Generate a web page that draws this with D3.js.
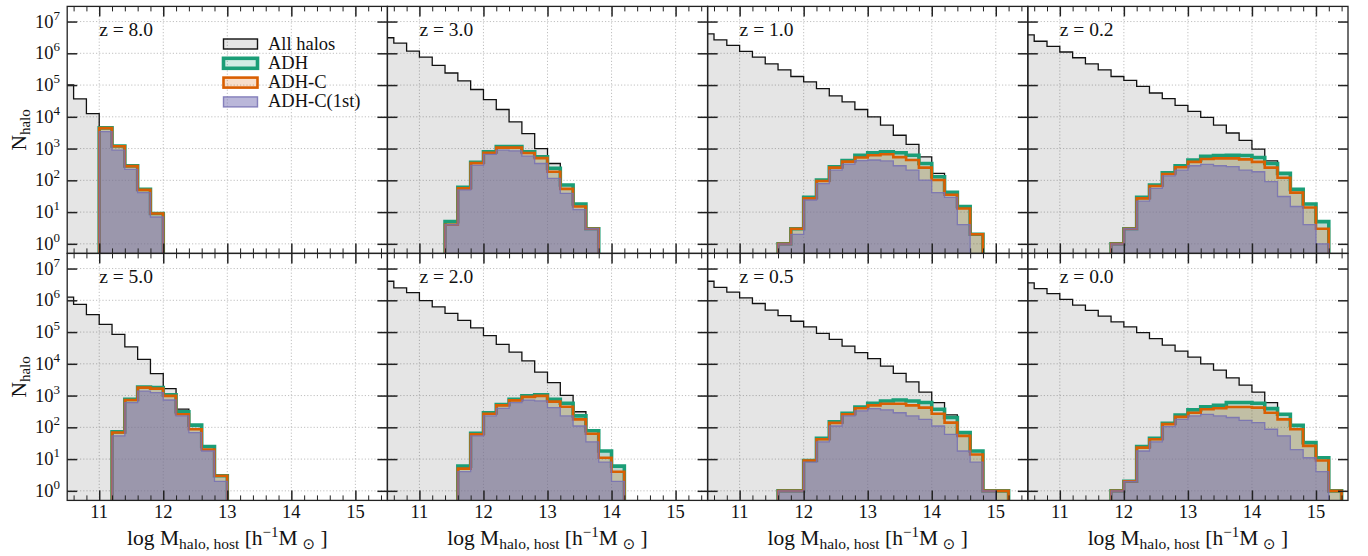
<!DOCTYPE html>
<html>
<head>
<meta charset="utf-8">
<script src="https://cdn.jsdelivr.net/npm/d3@7"></script>
<style>
  html, body { margin: 0; padding: 0; background: #fff; }
  svg { display: block; }
</style>
</head>
<body>
<svg id="chart" width="1368" height="556" font-family="'Liberation Serif', 'DejaVu Serif', serif"></svg>
<script>
// ---------------- data ----------------
const binWidth = 0.2;
const allStart = 10.4;
const xTickValues = [11, 12, 13, 14, 15];
const yTickExponents = [0, 1, 2, 3, 4, 5, 6, 7];
const seriesNames = ["All halos", "ADH", "ADH-C", "ADH-C(1st)"];
const panelRedshifts = ["8.0", "3.0", "1.0", "0.2", "5.0", "2.0", "0.5", "0.0"];

// z = 8.0
const z80_all = [102000, 37000, 12600, 4600, 1230, 290, 52, 9];
const z80_adhStart = 11.0;
const z80_adh = [4500, 1200, 285, 52, 9];
const z80_adhc = [4400, 1180, 280, 50, 9];
const z80_first = [3400, 890, 220, 41, 7];

// z = 5.0
const z50_all = [1260000, 741000, 355000, 174000, 85000, 34000, 13800, 4900, 1660, 372, 117, 25, 3];
const z50_adhStart = 11.2;
const z50_adh = [72, 760, 1860, 1780, 1050, 310, 117, 25, 3];
const z50_adhc = [69, 725, 1780, 1660, 980, 257, 87, 20, 3];
const z50_first = [54, 600, 1380, 1230, 725, 229, 68, 18, 2];

// z = 3.0
const z30_all = [3090000, 2090000, 1170000, 759000, 417000, 240000, 135000, 72400, 34700, 17000, 6900, 2950, 1000, 339, 71, 18, 3];
const z30_adhStart = 11.4;
const z30_adh = [5, 60, 372, 794, 1150, 1150, 794, 550, 240, 71, 18, 3];
const z30_adhc = [4, 56, 347, 741, 1070, 1070, 724, 500, 186, 54, 15, 3];
const z30_first = [4, 50, 295, 660, 890, 850, 575, 339, 115, 39, 12, 3];

// z = 2.0
const z20_all = [3980000, 2450000, 1740000, 977000, 617000, 389000, 234000, 135000, 77600, 40700, 23400, 12300, 5500, 2570, 1020, 309, 78, 18, 6];
const z20_adhStart = 11.6;
const z20_adh = [6, 65, 288, 525, 760, 980, 1050, 760, 575, 229, 78, 18, 6];
const z20_adhc = [5, 60, 269, 490, 708, 912, 977, 645, 447, 178, 63, 11, 4];
const z20_first = [4, 54, 229, 398, 603, 724, 676, 417, 229, 110, 35, 8, 2];

// z = 1.0
const z10_all = [4070000, 2630000, 1780000, 1150000, 759000, 468000, 302000, 186000, 126000, 77600, 45700, 29500, 17000, 10000, 5500, 2630, 1350, 550, 166, 42, 15, 2];
const z10_adhStart = 11.6;
const z10_adh = [1, 3, 29, 102, 269, 417, 617, 741, 794, 741, 617, 339, 129, 42, 15, 2];
const z10_adhc = [1, 3, 27, 95, 251, 389, 525, 617, 660, 537, 437, 251, 102, 35, 13, 2];
const z10_first = [1, 2, 24, 79, 209, 324, 417, 437, 407, 288, 209, 102, 41, 29, 4, 0];

// z = 0.5
const z05_all = [3980000, 2570000, 1820000, 1200000, 794000, 490000, 331000, 219000, 145000, 91200, 58900, 36300, 22400, 14500, 8510, 5010, 2690, 1290, 603, 245, 68, 18, 1, 1];
const z05_adhStart = 11.6;
const z05_adh = [1, 1, 9, 45, 148, 275, 437, 575, 676, 724, 676, 603, 372, 204, 68, 18, 1, 1];
const z05_adhc = [1, 1, 9, 42, 138, 257, 398, 490, 550, 550, 490, 417, 269, 141, 54, 14, 1, 1];
const z05_first = [1, 1, 8, 35, 110, 229, 331, 389, 355, 288, 229, 178, 110, 60, 18, 8, 1, 0];

// z = 0.2
const z02_all = [3800000, 2400000, 1660000, 1100000, 724000, 468000, 302000, 186000, 141000, 91200, 56200, 37200, 22900, 14800, 9550, 5500, 3090, 1820, 955, 407, 166, 52, 18, 5];
const z02_adhStart = 11.8;
const z02_adh = [1, 3, 29, 71, 174, 288, 437, 575, 603, 617, 603, 525, 339, 166, 52, 18, 5];
const z02_adhc = [1, 3, 27, 66, 158, 257, 380, 468, 490, 490, 457, 380, 251, 120, 41, 14, 3];
const z02_first = [1, 3, 22, 56, 138, 209, 288, 316, 288, 269, 209, 186, 91, 31, 15, 4, 1];

// z = 0.0
const z00_all = [3550000, 2340000, 1620000, 1070000, 708000, 479000, 316000, 209000, 145000, 95500, 61700, 38900, 25100, 16200, 10000, 6310, 3630, 2140, 1290, 603, 257, 115, 33, 11, 1];
const z00_adhStart = 11.8;
const z00_adh = [1, 2, 25, 45, 135, 245, 355, 447, 490, 603, 603, 575, 389, 257, 115, 33, 11, 1];
const z00_adhc = [1, 2, 23, 42, 126, 214, 288, 372, 398, 437, 437, 417, 288, 178, 87, 26, 9, 1];
const z00_first = [1, 2, 18, 35, 105, 178, 229, 257, 229, 204, 166, 141, 87, 54, 20, 11, 4, 0];

// ---------------- layout / style ----------------
const panels = [
  { z: panelRedshifts[0], row: 0, col: 0, all: z80_all, s: z80_adhStart, adh: z80_adh, adhc: z80_adhc, first: z80_first, legend: true },
  { z: panelRedshifts[1], row: 0, col: 1, all: z30_all, s: z30_adhStart, adh: z30_adh, adhc: z30_adhc, first: z30_first },
  { z: panelRedshifts[2], row: 0, col: 2, all: z10_all, s: z10_adhStart, adh: z10_adh, adhc: z10_adhc, first: z10_first },
  { z: panelRedshifts[3], row: 0, col: 3, all: z02_all, s: z02_adhStart, adh: z02_adh, adhc: z02_adhc, first: z02_first },
  { z: panelRedshifts[4], row: 1, col: 0, all: z50_all, s: z50_adhStart, adh: z50_adh, adhc: z50_adhc, first: z50_first },
  { z: panelRedshifts[5], row: 1, col: 1, all: z20_all, s: z20_adhStart, adh: z20_adh, adhc: z20_adhc, first: z20_first },
  { z: panelRedshifts[6], row: 1, col: 2, all: z05_all, s: z05_adhStart, adh: z05_adh, adhc: z05_adhc, first: z05_first },
  { z: panelRedshifts[7], row: 1, col: 3, all: z00_all, s: z00_adhStart, adh: z00_adh, adhc: z00_adhc, first: z00_first },
];

const FONT = "'Liberation Serif', 'DejaVu Serif', serif";
const L0 = 67.2, T0 = 6.4, PW = 320.2, PH = 247;
const green = "#1b9e77", orange = "#d95f02", purple = "#7570b3";
const styles = {
  all:   { fill: "rgba(0,0,0,0.10)", stroke: "#111", sw: 1.3, so: 1 },
  adh:   { fill: "rgba(27,158,119,0.2)", stroke: green, sw: 3.6, so: 1 },
  adhc:  { fill: "rgba(217,95,2,0.2)", stroke: orange, sw: 2.6, so: 1 },
  first: { fill: "rgba(117,112,179,0.5)", stroke: purple, sw: 1.3, so: 0.85 },
};

const svg = d3.select("#chart");
const defs = svg.append("defs");

function stepPath(x, y, start, vals, yFloor) {
  const pts = [];
  const yv = v => (v > 0 ? y(v) : yFloor);
  pts.push([x(start), yFloor]);
  vals.forEach((v, i) => {
    const a = start + i * binWidth, b = start + (i + 1) * binWidth;
    pts.push([x(a), yv(v)]);
    pts.push([x(b), yv(v)]);
  });
  pts.push([x(start + vals.length * binWidth), yFloor]);
  return d3.line()(pts);
}

const minorTicks = d3.range(10.6, 15.5, 0.2).map(v => +v.toFixed(1)).filter(v => Math.abs(v - Math.round(v)) > 1e-6);

function txt(sel) { return sel.append("text").attr("font-family", FONT).attr("fill", "#111"); }

panels.forEach((p, idx) => {
  const left = L0 + p.col * PW, top = T0 + p.row * PH;
  const x = d3.scaleLinear().domain([10.5, 15.5]).range([left, left + PW]);
  const y = d3.scaleLog().domain([0.5, 3e7]).range([top + PH, top]);
  const yFloor = top + PH + 30;

  const clipId = "clip" + idx;
  defs.append("clipPath").attr("id", clipId)
    .append("rect").attr("x", left).attr("y", top).attr("width", PW).attr("height", PH);

  const g = svg.append("g");
  const gc = g.append("g").attr("clip-path", `url(#${clipId})`);

  // grid
  const yTicks = yTickExponents.map(e => Math.pow(10, e));
  gc.selectAll(".gx").data(xTickValues).join("line")
    .attr("x1", d => x(d)).attr("x2", d => x(d)).attr("y1", top).attr("y2", top + PH)
    .attr("stroke", "#b0b0b0").attr("stroke-width", 0.8).attr("stroke-dasharray", "1.2,2");
  gc.selectAll(".gy").data(yTicks).join("line")
    .attr("x1", left).attr("x2", left + PW).attr("y1", d => y(d)).attr("y2", d => y(d))
    .attr("stroke", "#b0b0b0").attr("stroke-width", 0.8).attr("stroke-dasharray", "1.2,2");

  // histograms
  const series = [
    ["all", allStart, p.all],
    ["adh", p.s, p.adh],
    ["adhc", p.s, p.adhc],
    ["first", p.s, p.first],
  ];
  series.forEach(([key, start, vals]) => {
    const st = styles[key];
    const d = stepPath(x, y, start, vals, yFloor);
    gc.append("path").attr("d", d).attr("fill", st.fill).attr("stroke", "none");
    gc.append("path").attr("d", d).attr("fill", "none").attr("stroke", st.stroke)
      .attr("stroke-width", st.sw).attr("stroke-opacity", st.so).attr("stroke-linejoin", "miter");
  });

  // ticks via d3 axes (inward)
  const tickStyle = (sel, w) => { sel.select(".domain").remove(); sel.selectAll("line").attr("stroke", "#222").attr("stroke-width", w); sel.selectAll("text").remove(); };
  g.append("g").attr("transform", `translate(0,${top + PH})`)
    .call(d3.axisBottom(x).tickValues(xTickValues).tickSize(-10).tickFormat(""))
    .call(s => tickStyle(s, 1.5));
  g.append("g").attr("transform", `translate(0,${top + PH})`)
    .call(d3.axisBottom(x).tickValues(minorTicks).tickSize(-5).tickFormat(""))
    .call(s => tickStyle(s, 1));
  g.append("g").attr("transform", `translate(0,${top})`)
    .call(d3.axisTop(x).tickValues(xTickValues).tickSize(-10).tickFormat(""))
    .call(s => tickStyle(s, 1.5));
  g.append("g").attr("transform", `translate(0,${top})`)
    .call(d3.axisTop(x).tickValues(minorTicks).tickSize(-5).tickFormat(""))
    .call(s => tickStyle(s, 1));
  g.append("g").attr("transform", `translate(${left},0)`)
    .call(d3.axisLeft(y).tickValues(yTicks).tickSize(-10).tickFormat(""))
    .call(s => tickStyle(s, 1.5));
  g.append("g").attr("transform", `translate(${left + PW},0)`)
    .call(d3.axisRight(y).tickValues(yTicks).tickSize(-10).tickFormat(""))
    .call(s => tickStyle(s, 1.5));

  // frame
  g.append("rect").attr("x", left).attr("y", top).attr("width", PW).attr("height", PH)
    .attr("fill", "none").attr("stroke", "#222").attr("stroke-width", 1.3);

  // redshift label
  txt(g).attr("x", x(11)).attr("y", top + 29.5).attr("font-size", 19.5)
    .text("z = " + p.z);

  // tick labels
  if (p.row === 1) {
    xTickValues.forEach(d => {
      txt(g).attr("x", x(d)).attr("y", top + PH + 18).attr("text-anchor", "middle")
        .attr("font-size", 18.5).text(d);
    });
    const xl = txt(g).attr("x", left + PW / 2).attr("y", 545)
      .attr("text-anchor", "middle").attr("font-size", 21.5);
    xl.append("tspan").text("log M");
    xl.append("tspan").attr("font-size", 15.5).attr("dy", 4).text("halo, host");
    xl.append("tspan").attr("dy", -4).text(" [h");
    xl.append("tspan").attr("font-size", 15).attr("dy", -8).text("−1");
    xl.append("tspan").attr("dy", 8).text("M");
    xl.append("tspan").attr("font-size", 15).attr("dy", 4).attr("font-family", "DejaVu Sans").text(" ⊙");
    xl.append("tspan").attr("dy", -4).text(" ]");
  }
  if (p.col === 0) {
    yTickExponents.forEach(e => {
      const t = txt(g).attr("x", 60).attr("y", y(Math.pow(10, e)) + 6)
        .attr("text-anchor", "end").attr("font-size", 18.5);
      t.append("tspan").text("10");
      t.append("tspan").attr("font-size", 13).attr("dy", -8).text(e);
    });
    const yl = txt(g).attr("transform", `translate(26,${top + PH / 2}) rotate(-90)`)
      .attr("text-anchor", "middle").attr("font-size", 21.5);
    yl.append("tspan").text("N");
    yl.append("tspan").attr("font-size", 15).attr("dy", 4).text("halo");
  }

  // legend
  if (p.legend) {
    const keys = ["all", "adh", "adhc", "first"];
    const lg = g.append("g");
    keys.forEach((k, i) => {
      const cy = top + 37.6 + i * 19.3;
      const st = styles[k];
      lg.append("rect").attr("x", 223.5).attr("y", cy - 5).attr("width", 34).attr("height", 10)
        .attr("fill", st.fill).attr("stroke", st.stroke).attr("stroke-width", k === "adh" ? 3.6 : (k === "adhc" ? 2.6 : 1.4))
        .attr("stroke-opacity", st.so);
      txt(lg).attr("x", 268).attr("y", cy + 5.5).attr("font-size", 18.5).text(seriesNames[i]);
    });
  }
});
</script>
</body>
</html>
